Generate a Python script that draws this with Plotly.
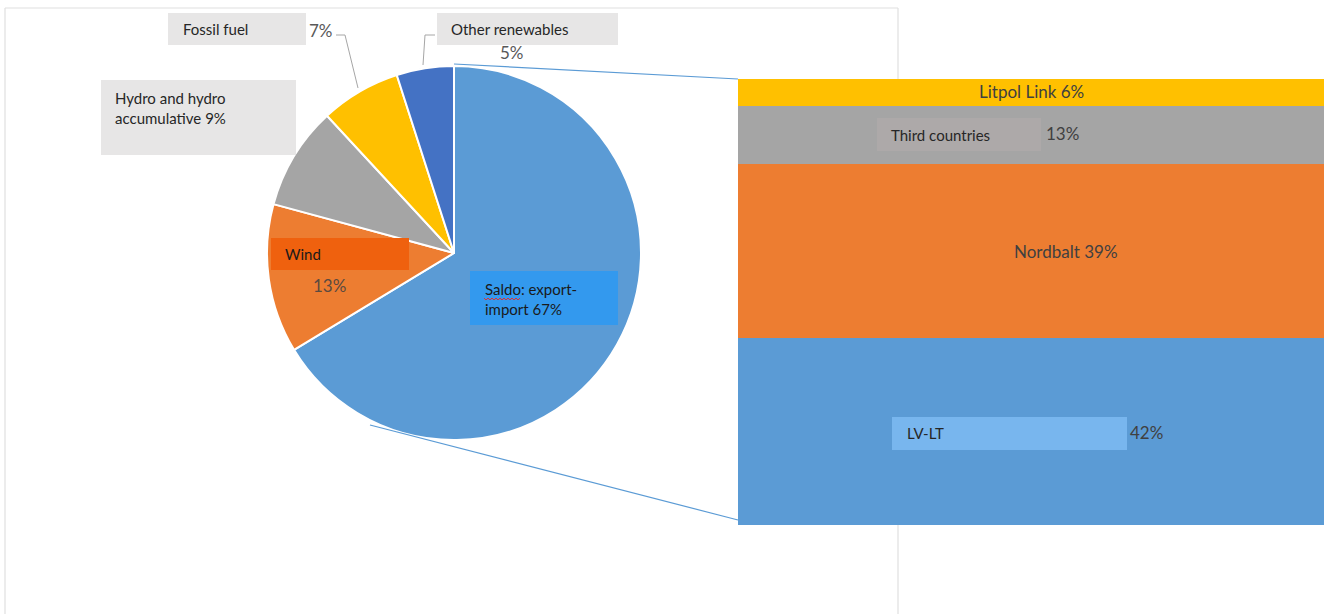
import plotly.graph_objects as go

W, H = 1328, 614

# ---- data ----
pie_labels = ["Saldo: export-import", "Wind", "Hydro and hydro accumulative", "Fossil fuel", "Other renewables"]
pie_values = [67, 13, 9, 7, 5]
pie_colors = ["#5B9BD5", "#ED7D31", "#A5A5A5", "#FFC000", "#4472C4"]

bar_labels = ["LV-LT", "Nordbalt", "Third countries", "Litpol Link"]
bar_values = [42, 39, 13, 6]
bar_colors = ["#5B9BD5", "#ED7D31", "#A5A5A5", "#FFC000"]


def X(px):
    return px / W


def Y(py):
    return 1 - py / H


FONT = "Lato, 'Open Sans', sans-serif"

fig = go.Figure()

cx, cy, r = 454, 253, 187
fig.add_trace(go.Pie(
    labels=pie_labels, values=pie_values, sort=False, direction="clockwise", rotation=0,
    marker=dict(colors=pie_colors, line=dict(color="white", width=2)),
    textinfo="none", hoverinfo="label+percent", showlegend=False,
    domain=dict(x=[X(cx - r), X(cx + r)], y=[Y(cy + r), Y(cy - r)]),
))

for lab, val, col in zip(bar_labels, bar_values, bar_colors):
    fig.add_trace(go.Bar(
        x=["Saldo"], y=[val], name=lab, marker=dict(color=col, line=dict(width=0)),
        showlegend=False, hoverinfo="name+y",
    ))

shapes = []
# chart frame
for (x0, y0, x1, y1) in [(5, 8, 898, 8), (5, 8, 5, 614), (898, 8, 898, 614)]:
    shapes.append(dict(type="line", xref="paper", yref="paper", x0=X(x0), y0=Y(y0), x1=X(x1), y1=Y(y1),
                       line=dict(color="#E0E0E0", width=1.2), layer="below"))
# connector lines
for (x0, y0, x1, y1) in [(454, 64, 738, 79), (370, 425, 738, 520)]:
    shapes.append(dict(type="line", xref="paper", yref="paper", x0=X(x0), y0=Y(y0), x1=X(x1), y1=Y(y1),
                       line=dict(color="#5B9BD5", width=1.2)))
# leader lines
for pts in [[(336, 35), (345, 35), (358, 88)], [(435, 35), (425, 35), (423, 65)]]:
    path = "M " + " L ".join(f"{X(a)} {Y(b)}" for a, b in pts)
    shapes.append(dict(type="path", xref="paper", yref="paper", path=path,
                       line=dict(color="#A6A6A6", width=1)))
# label boxes
boxes = [
    (168, 13, 306, 45, "#E7E6E6"),
    (437, 13, 618, 45, "#E7E6E6"),
    (101, 80, 296, 155, "#E7E6E6"),
    (271, 238, 409, 270, "#EF610E"),
    (470, 271, 618, 325, "#3399EE"),
    (877, 118, 1041, 151, "#ADA9A9"),
    (892, 417, 1127, 450, "#78B6EE"),
]
for (x0, y0, x1, y1, c) in boxes:
    shapes.append(dict(type="rect", xref="paper", yref="paper", x0=X(x0), y0=Y(y0), x1=X(x1), y1=Y(y1),
                       fillcolor=c, line=dict(width=0), layer="above"))
# spell-check squiggle under "Saldo"
sq = [(484 + i * 2, 298 + (i % 2) * 2) for i in range(19)]
shapes.append(dict(type="path", xref="paper", yref="paper",
                   path="M " + " L ".join(f"{X(a)} {Y(b)}" for a, b in sq),
                   line=dict(color="#E03030", width=1), layer="above"))

ann = []


def txt(x, y, s, size=15, color="#262626", xanchor="left"):
    ann.append(dict(x=X(x), y=Y(y), xref="paper", yref="paper", text=s, showarrow=False,
                    xanchor=xanchor, yanchor="middle", align="left",
                    font=dict(family=FONT, size=size, color=color)))


txt(181, 29, "Fossil fuel")
txt(321, 30, "7%", 17, "#595959", "center")
txt(449, 29, "Other renewables")
txt(512, 52, "5%", 17, "#595959", "center")
txt(113, 108, "Hydro and hydro<br>accumulative 9%")
txt(283, 254, "Wind", 15, "#1A1A1A")
txt(329, 285, "13%", 17, "#5A4A40", "center")
txt(483, 299, "Saldo: export-<br>import 67%", 15, "#1A1A1A")
txt(1031, 91, "Litpol Link 6%", 17, "#404040", "center")
txt(889, 135, "Third countries")
txt(1062, 133, "13%", 17, "#404040", "center")
txt(1066, 252, "Nordbalt 39%", 17, "#404040", "center")
txt(905, 433, "LV-LT")
txt(1146, 432, "42%", 17, "#404040", "center")

fig.update_layout(
    width=W, height=H, margin=dict(l=0, r=0, t=0, b=0, pad=0),
    paper_bgcolor="white", plot_bgcolor="white",
    barmode="stack", bargap=0,
    xaxis=dict(domain=[X(738), X(1324)], visible=False, fixedrange=True),
    yaxis=dict(domain=[Y(525), Y(79)], range=[0, 100], visible=False, fixedrange=True),
    shapes=shapes, annotations=ann,
    font=dict(family=FONT),
)

fig.write_html("out.html", config={"displayModeBar": False},
               post_script="document.body.style.margin='0';document.body.style.overflow='hidden';")
